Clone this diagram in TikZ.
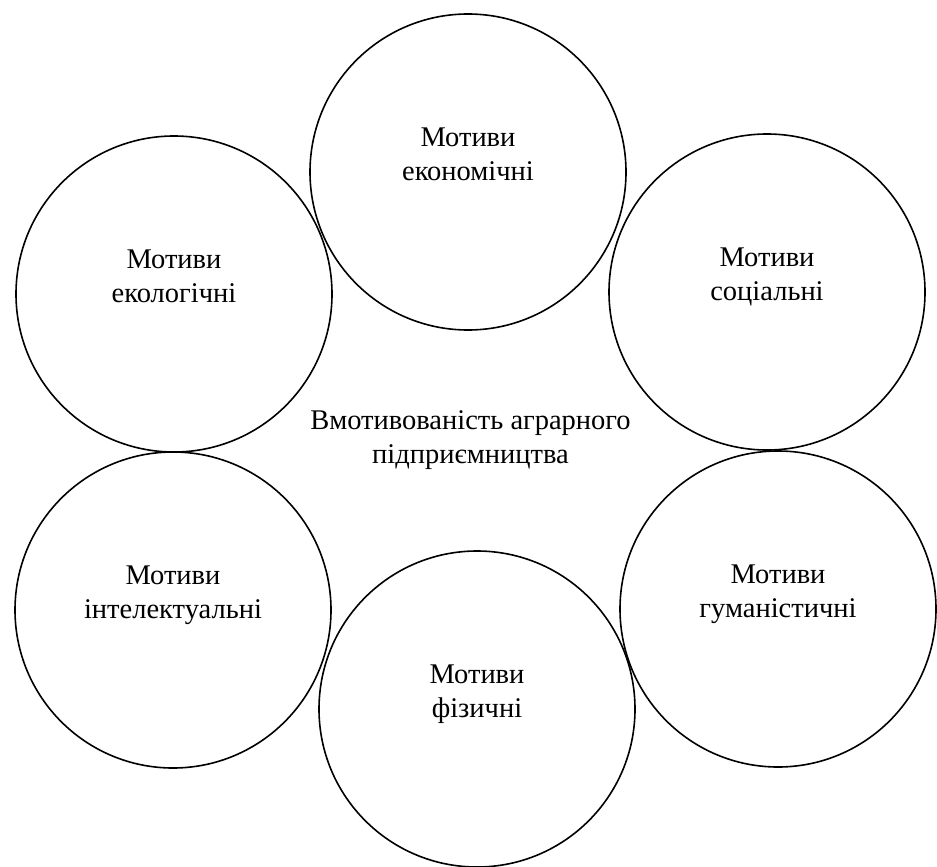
\documentclass[tikz,border=0pt]{standalone}
\usepackage{fontspec}
\setmainfont{Liberation Serif}
\newfontfamily\tnr{Liberation Serif}
\newcommand{\topstrut}{\rule{0pt}{21pt}}
\newcommand{\botstrut}{\rule[-8pt]{0pt}{8pt}}
\begin{document}
\begin{tikzpicture}[x=1pt,y=1pt,
  ring/.style={circle,draw=black,line width=1.6pt,minimum size=316pt,inner sep=0pt},
  lbl/.style={align=center,anchor=north,font=\tnr\fontsize{28.5}{34}\selectfont,inner sep=0pt}]
\useasboundingbox (0,0) rectangle (937,-867);
\node[ring] (eco)  at (468,-172) {};
\node[ring] (ecol) at (174,-294) {};
\node[ring] (soc)  at (767,-292) {};
\node[ring] (int)  at (173,-610) {};
\node[ring] (hum)  at (778,-609) {};
\node[ring] (fiz)  at (477,-709) {};
% first baseline 26pt above circle centre; north = baseline + 21pt
\node[lbl] (teco)  at ([yshift=47pt]eco.center)  {\topstrut Мотиви\\економічні\botstrut};
\node[lbl] (tecol) at ([yshift=47pt]ecol.center) {\topstrut Мотиви\\екологічні\botstrut};
\node[lbl] (tsoc)  at ([yshift=47pt]soc.center)  {\topstrut Мотиви\\соціальні\botstrut};
\node[lbl] (tint)  at ([yshift=47pt]int.center)  {\topstrut Мотиви\\інтелектуальні\botstrut};
\node[lbl] (thum)  at ([yshift=47pt]hum.center)  {\topstrut Мотиви\\гуманістичні\botstrut};
\node[lbl] (tfiz)  at ([yshift=47pt]fiz.center)  {\topstrut Мотиви\\фізичні\botstrut};
\node[lbl] (main)  at (470.5,-408) {\topstrut Вмотивованість аграрного\\підприємництва\botstrut};
\end{tikzpicture}
\end{document}
